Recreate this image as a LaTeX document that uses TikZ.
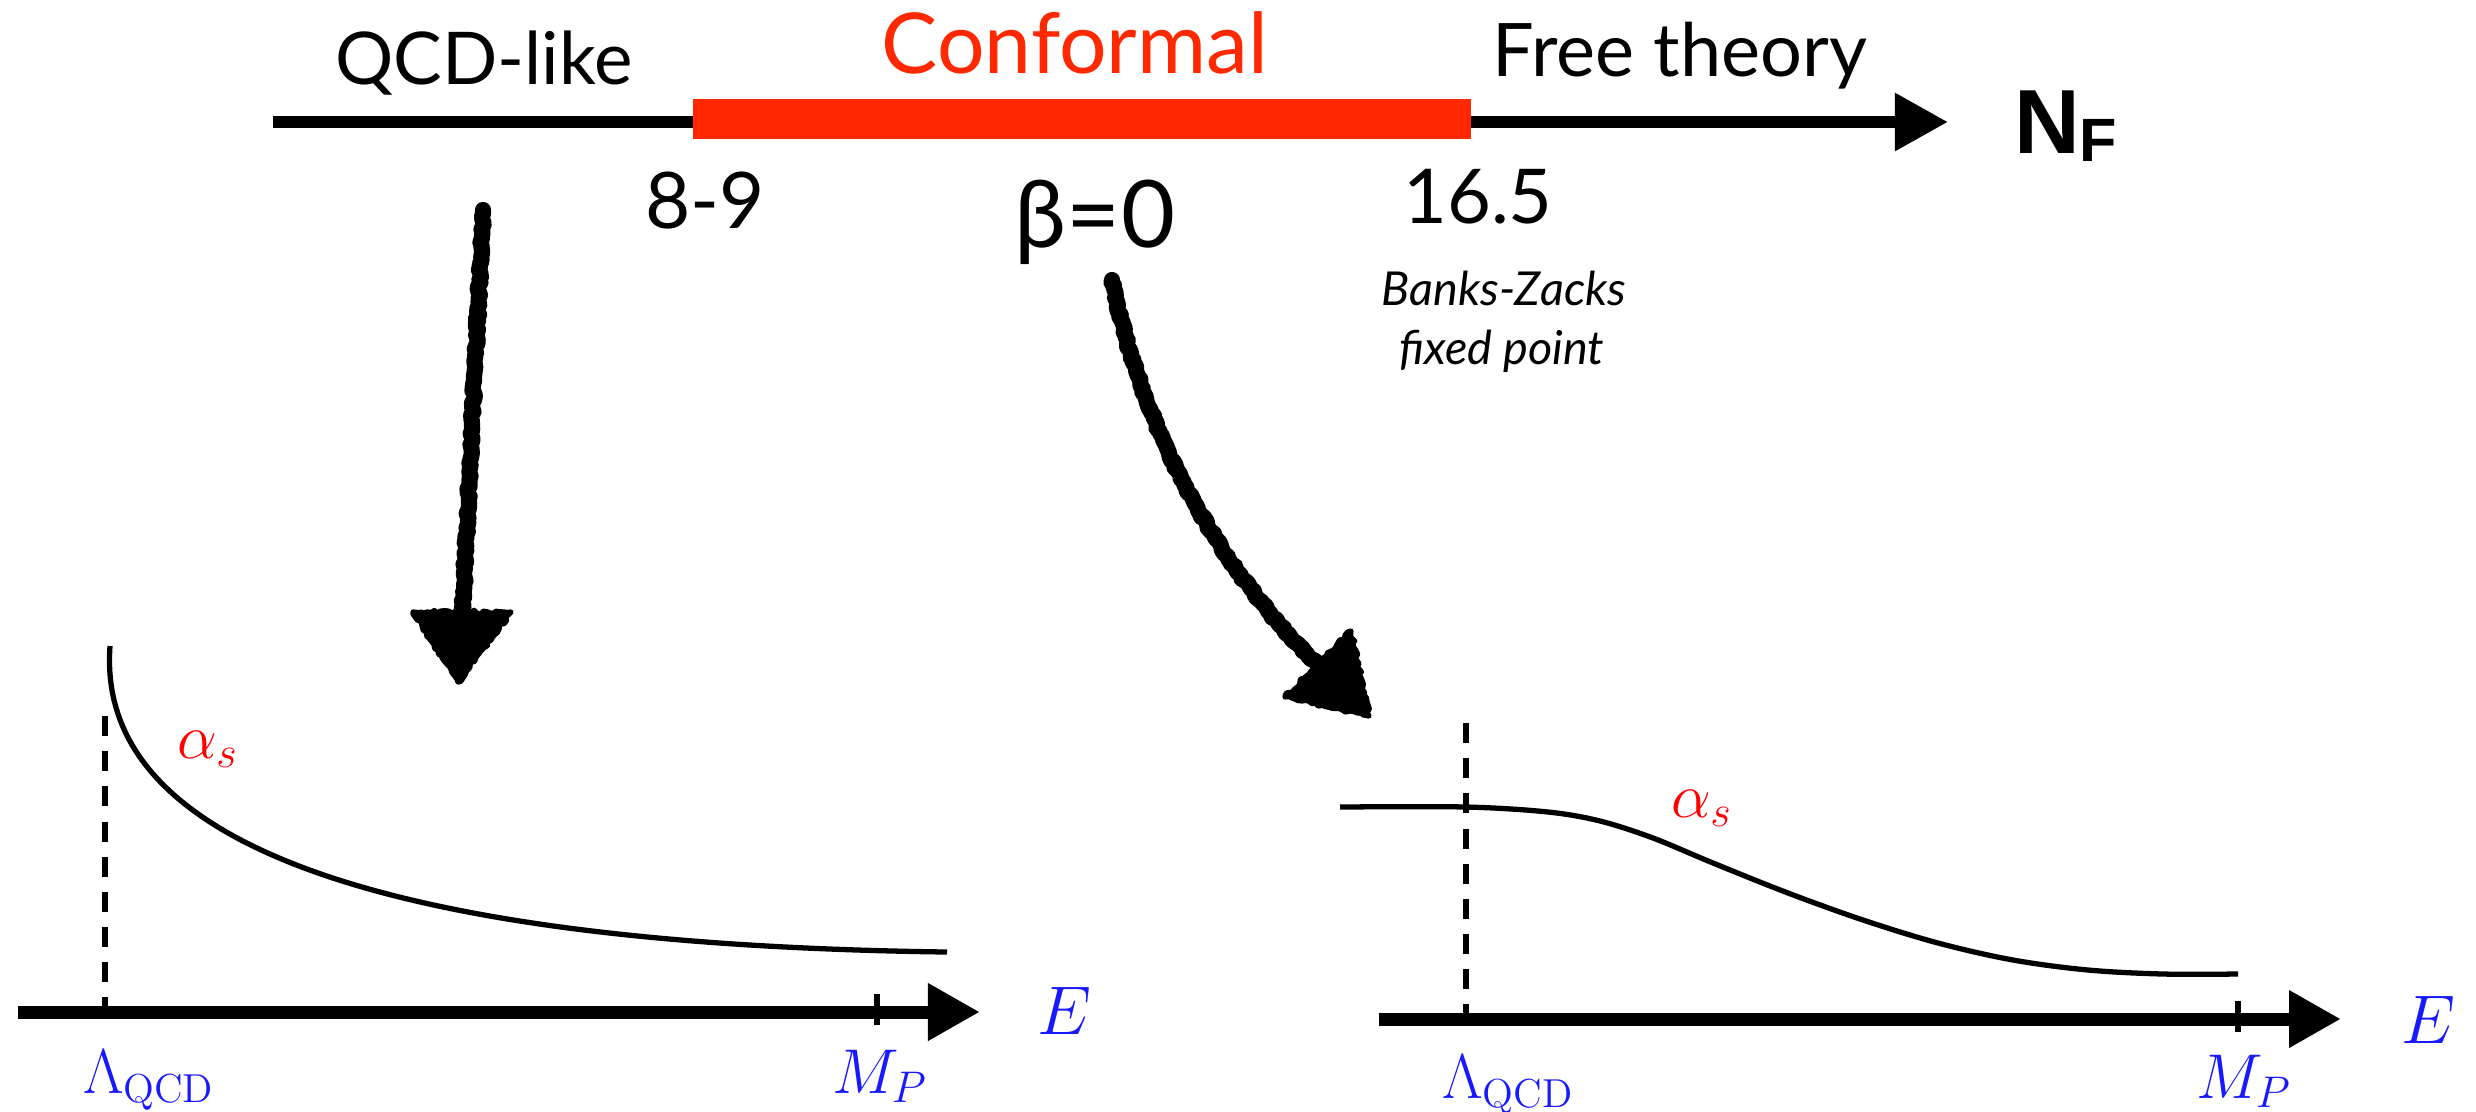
\RequirePackage{fix-cm}
\documentclass[tikz,border=0pt]{standalone}
\usepackage{fontspec}
\newfontfamily\lato{Lato}
\newfontfamily\nfont{Liberation Sans}
\usetikzlibrary{arrows.meta,decorations.pathmorphing}
\definecolor{confred}{RGB}{255,40,0}
\definecolor{mblue}{RGB}{25,25,255}
\definecolor{mred}{RGB}{255,0,0}
\newcommand{\qcdsub}{\hbox{\fontsize{11.5}{13}\selectfont QCD}}
\begin{document}
\pgfmathsetseed{7}
\begin{tikzpicture}[x=0.01cm,y=-0.01cm,
  lbl/.style={inner sep=0pt, outer sep=0pt, anchor=base},
  lblw/.style={inner sep=0pt, outer sep=0pt, anchor=base west},
  topaxis/.style={line width=3.4pt, -{Triangle[length=5.3mm,width=5.5mm]}},
  eaxis/.style={line width=3.7pt, -{Triangle[length=5.2mm,width=5.4mm]}},
  curve/.style={line width=1.5pt},
  dashln/.style={line width=1.8pt, dash pattern=on 5.7pt off 4.3pt},
  tickln/.style={line width=1.6pt},
  sketch/.style={line width=4.6pt, line cap=round, line join=round, decorate,
    decoration={random steps, segment length=0.9pt, amplitude=0.4pt}},
  headsk/.style={fill=black, draw=black, line width=1.5pt, line join=round, decorate,
    decoration={random steps, segment length=1pt, amplitude=0.5pt}},
  mathlbl/.style={lblw, font=\fontsize{18}{22}\selectfont},
]
\useasboundingbox (0,0) rectangle (2476,1111);

% ---------- top axis ----------
\coordinate (tL) at (273,122);
\coordinate (tR) at (1948,122);
\draw[topaxis] (tL) -- (tR);
\fill[confred] (693,99) rectangle (1471,139);

\node[lbl, font=\lato\fontsize{20.7}{24}\selectfont] (qcdlike) at (484,84) {QCD-like};
\node[lbl, font=\lato\fontsize{23.9}{28}\selectfont, text=confred] (conf) at (1075,73) {Conformal};
\node[lbl, font=\lato\fontsize{21}{25}\selectfont] (free) at (1680,76) {Free theory};
\node[lblw, font=\nfont\bfseries\fontsize{25.9}{30}\selectfont] (nf) at (2014,153)
  {N\raisebox{-2.3pt}{\fontsize{17.4}{20}\selectfont F}};

\node[lbl, font=\lato\fontsize{22.2}{26}\selectfont] (n89) at (705,228) {8-9};
\node[lbl, font=\lato\fontsize{26.5}{30}\selectfont] (beta) at (1095,247) {β=0};
\node[lbl, font=\lato\fontsize{21.5}{26}\selectfont] (n165) at (1478,223) {16.5};
\node[lbl, font=\lato\itshape\fontsize{13.3}{16}\selectfont] (bz1) at (1504,305) {Banks-Zacks};
\node[lbl, font=\lato\itshape\fontsize{13.3}{16}\selectfont] (bz2) at (1502,364) {fixed point};

% ---------- sketchy arrows ----------
\coordinate (a1s) at (483,210);
\coordinate (a1e) at (462,622);
\coordinate (h1a) at (413,612);
\coordinate (h1b) at (511,612);
\coordinate (h1t) at (458,682);
\draw[sketch] (a1s) -- (a1e);
\filldraw[headsk] (h1a) -- (h1b) -- (h1t) -- cycle;

\coordinate (a2s) at (1112,280);
\coordinate (a2e) at (1318,665);
\coordinate (h2a) at (1351,631);
\coordinate (h2b) at (1285,697);
\coordinate (h2t) at (1369,716);
\draw[sketch] (a2s) .. controls (1140,420) and (1210,560) .. (a2e);
\filldraw[headsk] (h2a) -- (h2b) -- (h2t) -- cycle;

% ---------- left plot ----------
\coordinate (eL1) at (18,1012);
\coordinate (eL2) at (980,1012);
\draw[eaxis] (eL1) -- (eL2);
\coordinate (dL1) at (105,716);
\coordinate (dL2) at (105,1025);
\draw[dashln] (dL1) -- (dL2);
\coordinate (tkL1) at (877,994);
\coordinate (tkL2) at (877,1025);
\draw[tickln] (tkL1) -- (tkL2);
\coordinate (cL1) at (110,646);
\coordinate (cL2) at (947,952);
\draw[curve] (cL1) .. controls (95,850) and (400,945) .. (cL2);
\node[mathlbl, text=mred] (asL) at (177,758) {$\alpha_s$};
\node[mathlbl, text=mblue] (lamL) at (83,1093) {$\Lambda_{\qcdsub}$};
\node[mathlbl, text=mblue] (mpL) at (832,1093) {$M_P$};
\node[lblw, font=\fontsize{19.6}{24}\selectfont, text=mblue] (eL) at (1037,1034) {$E$};

% ---------- right plot ----------
\coordinate (eR1) at (1379,1019);
\coordinate (eR2) at (2341,1019);
\draw[eaxis] (eR1) -- (eR2);
\coordinate (dR1) at (1466,723);
\coordinate (dR2) at (1466,1032);
\draw[dashln] (dR1) -- (dR2);
\coordinate (tkR1) at (2238,1001);
\coordinate (tkR2) at (2238,1032);
\draw[tickln] (tkR1) -- (tkR2);
\draw[curve] plot[smooth, tension=0.55] coordinates {(1340,807) (1466,807) (1548,812) (1600,821) (1653,838) (1713,863) (1788,893) (1863,920) (1938,943) (2013,960) (2088,970) (2163,974) (2238,974)};
\node[mathlbl, text=mred] (asR) at (1671,817) {$\alpha_s$};
\node[mathlbl, text=mblue] (lamR) at (1442,1098) {$\Lambda_{\qcdsub}$};
\node[mathlbl, text=mblue] (mpR) at (2196,1098) {$M_P$};
\node[lblw, font=\fontsize{19.6}{24}\selectfont, text=mblue] (eR) at (2401,1043) {$E$};
\end{tikzpicture}
\end{document}
